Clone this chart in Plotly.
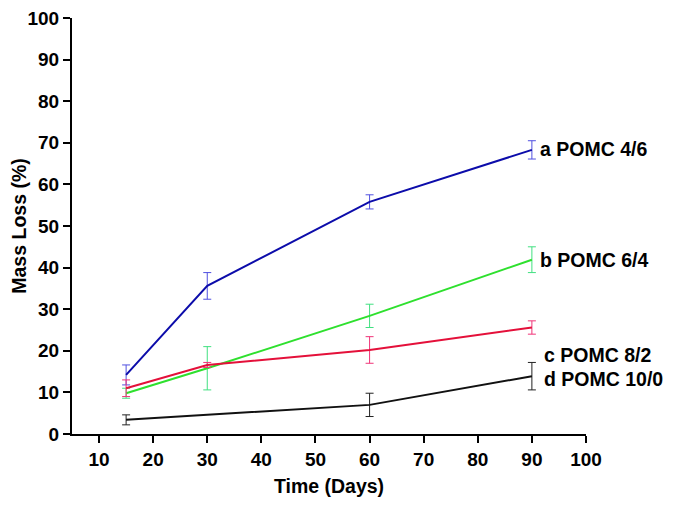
import plotly.graph_objects as go

days_a = [15, 30, 60, 90]
mass_a = [14.2, 35.6, 55.8, 68.3]
err_a = [2.4, 3.2, 1.7, 2.2]

days_b = [15, 30, 60, 90]
mass_b = [9.8, 15.8, 28.4, 41.9]
err_b = [1.2, 5.2, 2.8, 3.1]

days_c = [15, 30, 60, 90]
mass_c = [11.0, 16.6, 20.2, 25.6]
err_c = [2.0, 0.6, 3.2, 1.6]

days_d = [15, 60, 90]
mass_d = [3.4, 7.0, 13.9]
err_d = [1.2, 2.8, 3.3]

labels = ["a POMC 4/6", "b POMC 6/4", "c POMC 8/2", "d POMC 10/0"]
label_y = [68.5, 41.8, 19.0, 13.2]

x_ticks = [10, 20, 30, 40, 50, 60, 70, 80, 90, 100]
y_ticks = [0, 10, 20, 30, 40, 50, 60, 70, 80, 90, 100]

FONT = "Liberation Sans, Arial, sans-serif"
FS = 19

series = [
    (days_a, mass_a, err_a, "#0c0caa", "#5050e0"),
    (days_b, mass_b, err_b, "#2ee02e", "#40e080"),
    (days_c, mass_c, err_c, "#e4103a", "#f03478"),
    (days_d, mass_d, err_d, "#111111", "#222222"),
]

fig = go.Figure()
for xs, ys, es, lc, ec in series:
    fig.add_trace(go.Scatter(
        x=xs, y=ys, mode="lines",
        line=dict(color=lc, width=2),
        error_y=dict(type="data", array=es, visible=True, color=ec, thickness=1, width=4),
        showlegend=False,
    ))

label_x = [91.2, 91.2, 91.8, 91.8]
for lx, ly, txt in zip(label_x, label_y, labels):
    fig.add_annotation(x=lx, y=ly, text=txt, showarrow=False, xanchor="left", yanchor="middle",
                       font=dict(family=FONT, size=19.5, color="black", weight="bold"))

axis_common = dict(
    showgrid=False, zeroline=False, showline=True, linecolor="black", linewidth=2,
    ticks="outside", ticklen=7, tickwidth=2, tickcolor="black", automargin=False,
    ticklabeloverflow="allow",
    tickfont=dict(family=FONT, size=FS, color="black", weight="bold"),
)

fig.update_xaxes(range=[5, 100], tickvals=x_ticks,
                 title=dict(text="Time (Days)", font=dict(family=FONT, size=19.5, color="black", weight="bold"), standoff=11),
                 **axis_common)
fig.update_yaxes(range=[0, 100], tickvals=y_ticks,
                 title=dict(text="Mass Loss (%)", font=dict(family=FONT, size=19.5, color="black", weight="bold"), standoff=7),
                 **axis_common)

fig.update_layout(
    width=666, height=498,
    margin=dict(l=64, r=88, t=10, b=72),
    plot_bgcolor="white", paper_bgcolor="white",
)

fig.write_html("out.html")
